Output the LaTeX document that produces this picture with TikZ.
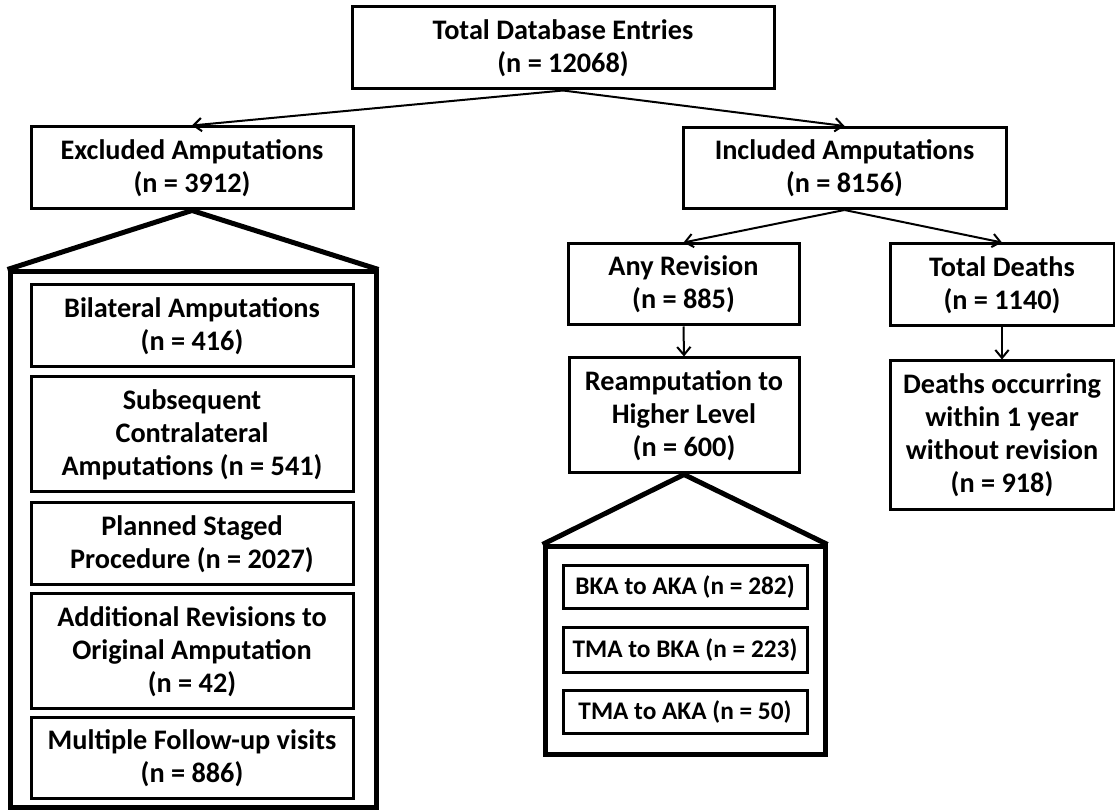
\documentclass[tikz,border=0pt]{standalone}
\usepackage{fontspec}
\setmainfont{Carlito}
\usepackage{tikz}
\usetikzlibrary{arrows.meta}

\begin{document}
\begin{tikzpicture}[x=0.75pt,y=-0.75pt,
    every node/.style={font=\bfseries\fontsize{21.2}{24.75}\selectfont},
    box/.style={draw,line width=2.25pt,align=center,inner sep=0pt},
    small/.style={box,font=\bfseries\fontsize{19}{22}\selectfont},
    frame/.style={draw,line width=3.75pt,inner sep=0pt},
    link/.style={-{Straight Barb[length=6pt,width=10pt]},line width=1.5pt}]
    \useasboundingbox (0,0) rectangle (1115,812);

    % Top level
    \node[box,minimum width=316.5pt,minimum height=61.5pt] (total) at (563,48) {Total Database Entries\\(n = 12068)};
    \node[box,minimum width=241.5pt,minimum height=61.5pt] (excl) at (192,168) {Excluded Amputations\\(n = 3912)};
    \node[box,minimum width=242.25pt,minimum height=60.75pt] (incl) at (844.5,168) {Included Amputations\\(n = 8156)};
    \draw[link] (total.south) -- (excl.north);
    \draw[link] (total.south) -- (incl.north);

    % Excluded breakdown
    \node[frame,minimum width=274.5pt,minimum height=402pt] (exclbox) at (193,540) {};
    \draw[line width=3.75pt] (exclbox.north west) -- (excl.south) -- (exclbox.north east);
    \node[box,minimum width=241.5pt,minimum height=61.5pt] (bilat) at (192,326) {Bilateral Amputations\\(n = 416)};
    \node[box,minimum width=241.5pt,minimum height=86.25pt] (subseq) at (192,434.5) {Subsequent\\Contralateral\\Amputations (n = 541)};
    \node[box,minimum width=241.5pt,minimum height=61.5pt] (planned) at (192,544) {Planned Staged\\Procedure (n = 2027)};
    \node[box,minimum width=241.5pt,minimum height=86.25pt] (addl) at (192,651.5) {Additional Revisions to\\Original Amputation\\(n = 42)};
    \node[box,minimum width=241.5pt,minimum height=60.75pt] (multi) at (192,758.5) {Multiple Follow-up visits\\(n = 886)};

    % Included breakdown
    \node[box,minimum width=173.25pt,minimum height=60.75pt] (anyrev) at (683.5,284.5) {Any Revision\\(n = 885)};
    \node[box,minimum width=168pt,minimum height=61.5pt] (deaths) at (1002,285) {Total Deaths\\(n = 1140)};
    \node[box,minimum width=172.5pt,minimum height=86.25pt] (ream) at (684,415.5) {Reamputation to\\Higher Level\\(n = 600)};
    \node[box,minimum width=168pt,minimum height=111.75pt] (deathsyr) at (1002,435.5) {Deaths occurring\\within 1 year\\without revision\\(n = 918)};
    \draw[link] (incl.south) -- (anyrev.north);
    \draw[link] (incl.south) -- (deaths.north);
    \draw[link] (anyrev.south) -- (ream.north);
    \draw[link] (deaths.south) -- (deathsyr.north);

    % Reamputation levels
    \node[frame,minimum width=210pt,minimum height=156pt] (reambox) at (685,651) {};
    \draw[line width=3.75pt] (reambox.north west) -- (ream.south) -- (reambox.north east);
    \node[small,minimum width=183pt,minimum height=32.25pt] (bka) at (685,587.5) {BKA to AKA (n = 282)};
    \node[small,minimum width=183pt,minimum height=33.75pt] (tmabka) at (685,650.5) {TMA to BKA (n = 223)};
    \node[small,minimum width=183pt,minimum height=32.25pt] (tmaaka) at (685,712.5) {TMA to AKA (n = 50)};
\end{tikzpicture}
\end{document}
